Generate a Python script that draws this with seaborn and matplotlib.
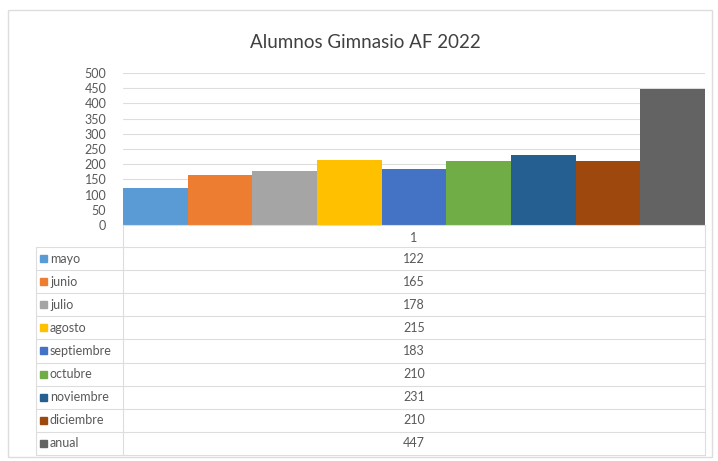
import matplotlib
matplotlib.use("Agg")
import matplotlib.pyplot as plt
from matplotlib.patches import Rectangle
from matplotlib.lines import Line2D
import seaborn as sns
import pandas as pd

titulo = "Alumnos Gimnasio AF 2022"
meses = ["mayo", "junio", "julio", "agosto", "septiembre", "octubre",
         "noviembre", "diciembre", "anual"]
alumnos = [122, 165, 178, 215, 183, 210, 231, 210, 447]
colores = ["#5B9BD5", "#ED7D31", "#A5A5A5", "#FFC000", "#4472C4",
           "#70AD47", "#255E91", "#9E480E", "#636363"]
categoria = "1"

df = pd.DataFrame({"grupo": categoria, "mes": meses, "alumnos": alumnos})

sns.set_style("white")
plt.rcParams["font.family"] = ["Lato", "DejaVu Sans"]

W, H = 718, 461
fig = plt.figure(figsize=(W / 100, H / 100), dpi=100)


def fx(x):
    return x / W


def fy(y):
    return 1 - y / H


gris = "#DDDDDD"
texto = "#595959"

# borde del grafico
fig.patches.append(Rectangle((fx(8), fy(457)), fx(704), (457 - 10) / H,
                             transform=fig.transFigure, fill=False,
                             edgecolor=gris, lw=1))

fig.text(fx(365), fy(42), titulo, ha="center", va="center",
         fontsize=13.5, color="#404040")

ax = fig.add_axes([fx(123), fy(225), (705 - 123) / W, (225 - 73) / H])
sns.barplot(data=df, x="grupo", y="alumnos", hue="mes", hue_order=meses,
            palette=colores, width=1, saturation=1, legend=False,
            linewidth=0, ax=ax)
ax.set_xlim(-0.5, 0.5)
ax.set_ylim(0, 500)
ax.set_yticks(range(0, 501, 50))
ax.yaxis.grid(True, color=gris, lw=0.8)
ax.set_axisbelow(True)
for s in ["top", "right", "left"]:
    ax.spines[s].set_visible(False)
ax.spines["bottom"].set_color(gris)
ax.set_xlabel("")
ax.set_ylabel("")
ax.tick_params(axis="y", length=0, labelsize=9, labelcolor=texto, pad=12)
ax.tick_params(axis="x", length=0, labelsize=9, labelcolor=texto, pad=5)

# tabla de datos
fila = 23.1
y0 = 247
for i in range(len(meses) + 1):
    y = y0 + i * fila
    fig.add_artist(Line2D([fx(36), fx(705)], [fy(y), fy(y)],
                          transform=fig.transFigure, color=gris, lw=0.8))
fig.add_artist(Line2D([fx(123), fx(123)], [fy(225), fy(y0 + 9 * fila)],
                      transform=fig.transFigure, color=gris, lw=0.8))
fig.add_artist(Line2D([fx(705), fx(705)], [fy(225), fy(y0 + 9 * fila)],
                      transform=fig.transFigure, color=gris, lw=0.8))
fig.add_artist(Line2D([fx(36), fx(36)], [fy(y0), fy(y0 + 9 * fila)],
                      transform=fig.transFigure, color=gris, lw=0.8))

for i, (mes, val, col) in enumerate(zip(meses, alumnos, colores)):
    yc = y0 + (i + 0.5) * fila
    fig.patches.append(Rectangle((fx(40), fy(yc + 3.5)), 7 / W, 7 / H,
                                 transform=fig.transFigure, color=col))
    fig.text(fx(50), fy(yc), mes, ha="left", va="center",
             fontsize=9, color=texto)
    fig.text(fx(414), fy(yc), str(val), ha="center", va="center",
             fontsize=9, color=texto)

fig.savefig("out.png", dpi=100)
